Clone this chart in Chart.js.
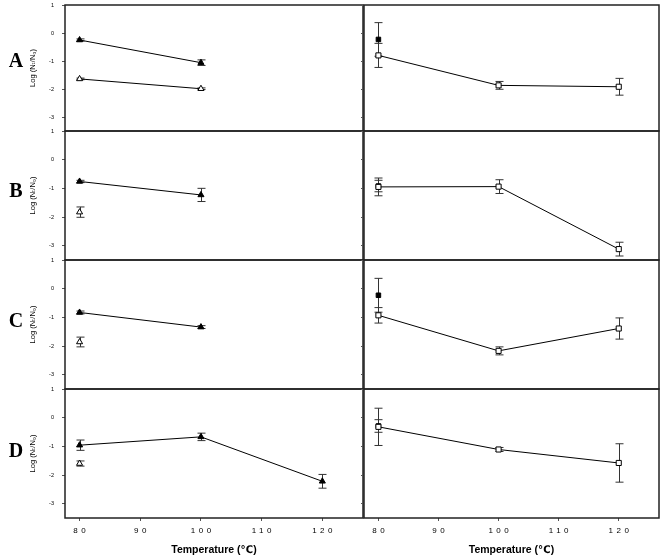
<!DOCTYPE html>
<html><head><meta charset="utf-8">
<script src="https://cdn.jsdelivr.net/npm/chart.js@4"></script>
<style>
html,body{margin:0;padding:0;background:#fff;}
#wrap{position:relative;width:664px;height:556px;overflow:hidden;}
canvas{position:absolute;left:0;top:0;}
.lab{position:absolute;font:bold 20px "Liberation Serif","DejaVu Serif",serif;color:#000;transform:translate(-50%,-50%);}
</style></head>
<body><div id="wrap"></div>
<script>
// ---- data ----
const temps = [80, 100, 120];
const xTicks = [80, 90, 100, 110, 120];
const yTicks = [1, 0, -1, -2, -3];
const rowNames = ['A', 'B', 'C', 'D'];

// left column: triangles (filled / open), log(Nt/N0) and errors
const A_triFill = [-0.25, -1.06, null];  const A_triFillErr = [0.04, 0.10, null];
const A_triOpen = [-1.64, -1.99, null];  const A_triOpenErr = [0.03, 0.03, null];
const B_triFill = [-0.76, -1.23, null];  const B_triFillErr = [0.04, 0.23, null];
const B_triOpen = [-1.83, null, null];   const B_triOpenErr = [0.18, null, null];
const C_triFill = [-0.83, -1.34, null];  const C_triFillErr = [0.05, 0.05, null];
const C_triOpen = [-1.86, null, null];   const C_triOpenErr = [0.17, null, null];
const D_triFill = [-0.96, -0.67, -2.22]; const D_triFillErr = [0.18, 0.13, 0.24];
const D_triOpen = [-1.60, null, null];   const D_triOpenErr = [0.09, null, null];

// right column: squares (filled / open)
const A_sqFill = [-0.23, null, null];    const A_sqFillErr = [0.60, null, null];
const A_sqOpen = [-0.80, -1.87, -1.92];  const A_sqOpenErr = [0.43, 0.14, 0.30];
const B_sqFill = [-0.92, null, null];    const B_sqFillErr = [0.20, null, null];
const B_sqOpen = [-0.95, -0.94, -3.12];  const B_sqOpenErr = [0.31, 0.24, 0.24];
const C_sqFill = [-0.23, null, null];    const C_sqFillErr = [0.59, null, null];
const C_sqOpen = [-0.93, -2.17, -1.39];  const C_sqOpenErr = [0.27, 0.14, 0.37];
const D_sqFill = [-0.29, null, null];    const D_sqFillErr = [0.22, null, null];
const D_sqOpen = [-0.32, -1.11, -1.58];  const D_sqOpenErr = [0.65, 0.07, 0.67];

const leftData = [
  [[A_triFill, A_triFillErr], [A_triOpen, A_triOpenErr]],
  [[B_triFill, B_triFillErr], [B_triOpen, B_triOpenErr]],
  [[C_triFill, C_triFillErr], [C_triOpen, C_triOpenErr]],
  [[D_triFill, D_triFillErr], [D_triOpen, D_triOpenErr]]
];
const rightData = [
  [[A_sqFill, A_sqFillErr], [A_sqOpen, A_sqOpenErr]],
  [[B_sqFill, B_sqFillErr], [B_sqOpen, B_sqOpenErr]],
  [[C_sqFill, C_sqFillErr], [C_sqOpen, C_sqOpenErr]],
  [[D_sqFill, D_sqFillErr], [D_sqOpen, D_sqOpenErr]]
];

// ---- layout ----
const W = 664, H = 556;
const rowTops = [2, 131, 260, 389];
const rowH = 129;
const FONT = '"Liberation Sans","DejaVu Sans",Arial,sans-serif';

const errorBars = {
  id: 'errorBars',
  beforeDatasetsDraw(chart) {
    const {ctx} = chart; const xs = chart.scales.x, ys = chart.scales.y;
    chart.data.datasets.forEach(ds => {
      if (!ds.errors) return;
      ctx.save(); ctx.strokeStyle = '#333'; ctx.lineWidth = 1;
      ds.data.forEach((p, j) => {
        const e = ds.errors[j]; if (e == null) return;
        const px = Math.round(xs.getPixelForValue(p.x)) + 0.5;
        const t = ys.getPixelForValue(p.y + e), b = ys.getPixelForValue(p.y - e);
        ctx.beginPath();
        ctx.moveTo(px, t); ctx.lineTo(px, b);
        ctx.moveTo(px - 4, t); ctx.lineTo(px + 4, t);
        ctx.moveTo(px - 4, b); ctx.lineTo(px + 4, b);
        ctx.stroke();
      });
      ctx.restore();
    });
  }
};
const frame = {
  id: 'frame',
  afterDraw(chart) {
    const {ctx, chartArea: a} = chart;
    ctx.save(); ctx.strokeStyle = '#222'; ctx.lineWidth = 1.5;
    ctx.strokeRect(a.left, a.top, a.right - a.left, a.bottom - a.top);
    ctx.restore();
  }
};
const spacing = {
  id: 'spacing',
  beforeDraw(chart) {
    const xs = chart.scales.x;
    if (xs && !xs._ls) {
      const o = xs.drawLabels;
      xs.drawLabels = function (a) {
        const c = this.ctx; c.save(); c.letterSpacing = '3.5px'; c.translate(1.75, 0);
        o.call(this, a); c.restore();
      };
      xs._ls = true;
    }
  }
};

function pts(vals, errs) {
  const d = [], e = [];
  temps.forEach((t, i) => { if (vals[i] != null) { d.push({x: t, y: vals[i]}); e.push(errs[i]); } });
  return {d, e};
}

function makeChart(row, isLeft) {
  const cv = document.createElement('canvas');
  cv.width = W; cv.height = H;
  document.getElementById('wrap').appendChild(cv);
  const bottomRow = row === 3;
  const top = rowTops[row], bottom = top + rowH;
  const src = isLeft ? leftData[row] : rightData[row];
  const style = isLeft ? 'triangle' : 'rect';
  const f = pts(src[0][0], src[0][1]);
  const o = pts(src[1][0], src[1][1]);
  // first dataset is drawn on top: open markers above filled ones
  const datasets = [
    {data: o.d, errors: o.e, pointStyle: style, pointRadius: isLeft ? 3.5 : 3.6,
     pointBackgroundColor: '#fff', backgroundColor: '#fff', borderColor: '#000', pointBorderColor: '#000',
     pointBorderWidth: 1, borderWidth: 1, showLine: true},
    {data: f.d, errors: f.e, pointStyle: style, pointRadius: isLeft ? 3.5 : 3.2,
     backgroundColor: '#000', borderColor: '#000', pointBorderWidth: 1, borderWidth: 1, showLine: true}
  ];
  const xAxisH = 38;
  const yAxisW = isLeft ? 65 : 4;
  const padding = {
    left: isLeft ? 0 : 360,
    right: isLeft ? W - 363 : 1,
    top: top,
    bottom: bottomRow ? H - bottom - xAxisH : H - bottom
  };
  return new Chart(cv, {
    type: 'scatter',
    data: {datasets},
    plugins: [errorBars, frame, spacing],
    options: {
      responsive: false, animation: false, devicePixelRatio: 1,
      layout: {padding},
      plugins: {legend: {display: false}, tooltip: {enabled: false}},
      scales: {
        x: {
          type: 'linear', min: 77.6, max: 126.7, display: bottomRow,
          afterBuildTicks: s => { s.ticks = xTicks.map(v => ({value: v})); },
          afterFit: s => { s.height = bottomRow ? xAxisH : 0; s.paddingLeft = 0; s.paddingRight = 0; },
          grid: {display: true, drawOnChartArea: false, drawTicks: true, tickLength: 3, color: '#555'},
          border: {display: false},
          ticks: {font: {family: FONT, size: 8}, color: '#000', padding: 5, maxRotation: 0, autoSkip: false},
          title: {display: true, text: 'Temperature (℃)', font: {family: FONT, size: 10.5, weight: 'bold'}, color: '#000', padding: {top: 0, bottom: 0}}
        },
        y: {
          type: 'linear', min: -3.5, max: 1,
          afterBuildTicks: s => { s.ticks = yTicks.map(v => ({value: v})); },
          afterFit: s => { s.width = yAxisW; s.paddingTop = 0; s.paddingBottom = 0; },
          grid: {display: true, drawOnChartArea: false, drawTicks: true, tickLength: 3, color: '#555'},
          border: {display: false},
          ticks: {display: isLeft, font: {family: FONT, size: 5.5}, color: '#000', padding: 8},
          title: {display: isLeft, text: 'Log (Nₜ/N₀)', font: {family: FONT, size: 7.5}, color: '#000', padding: {top: 28, bottom: 0}}
        }
      }
    }
  });
}

for (let r = 0; r < 4; r++) { makeChart(r, true); makeChart(r, false); }

// row letters
const letterY = [60, 190, 320, 450];
rowNames.forEach((n, i) => {
  const d = document.createElement('div');
  d.className = 'lab'; d.textContent = n;
  d.style.left = '16px'; d.style.top = letterY[i] + 'px';
  document.getElementById('wrap').appendChild(d);
});
</script>
</body></html>
